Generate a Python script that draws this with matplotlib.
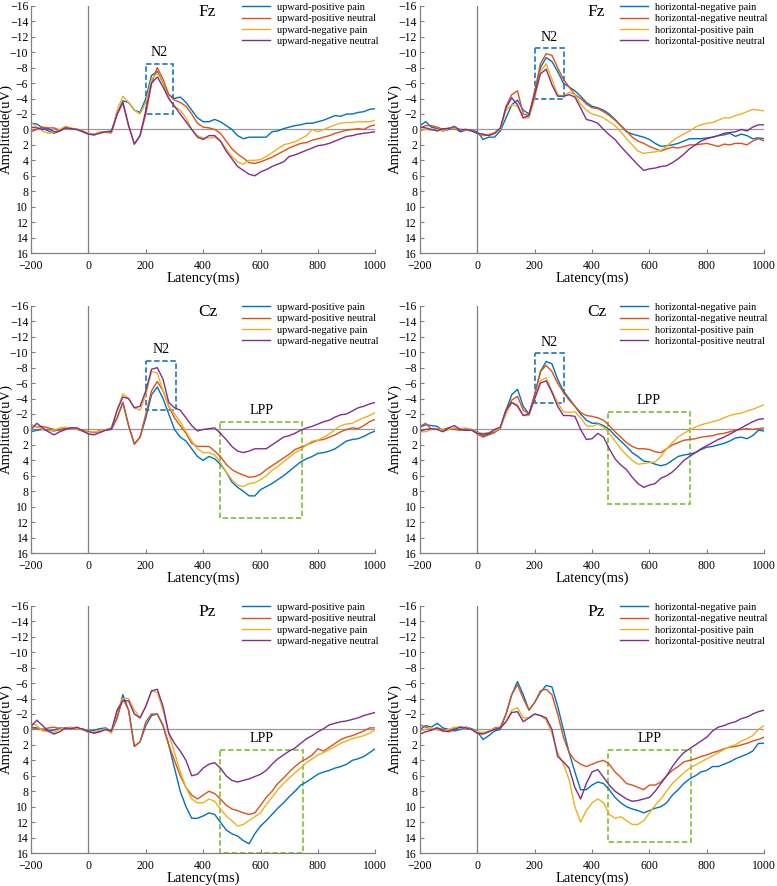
import matplotlib
matplotlib.use("Agg")
import matplotlib.pyplot as plt
from matplotlib.patches import Rectangle

plt.rcParams['font.family'] = ['Liberation Serif', 'DejaVu Serif']

# latency grid (ms), every 20 ms
LAT = list(range(-200, 1001, 20))

COLORS = ['#0072BD', '#D95319', '#EDB120', '#7E2F8E']
UP_LABELS = ['upward-positive pain', 'upward-positive neutral',
             'upward-negative pain', 'upward-negative neutral']
HOR_LABELS = ['horizontal-negative pain', 'horizontal-negative neutral',
              'horizontal-positive pain', 'horizontal-positive neutral']

# ---- Fz, upward (-200..80 baseline, then 100..1000)
FZ_UP_1 = [-0.8, -0.7, -0.2, 0.2, 0.5, 0.2, -0.3, -0.1, 0, 0.3, 0.6, 0.7, 0.4, 0.3, 0.2,
           -2, -3.7, -3.5, -2.5, -2.2, -4, -7, -7.5, -6, -4.5,
           -4, -4.2, -3.5, -2.5, -1.5, -1, -1, -1.3, -1, -0.5,
           0, 0.8, 1.2, 1, 1, 1, 1, 0.3, 0.2, -0.1,
           -0.3, -0.5, -0.6, -0.8, -0.8, -1, -1.2, -1.5, -1.8, -1.7,
           -2, -2, -2.2, -2.3, -2.6, -2.7]
FZ_UP_2 = [0.3, 0, -0.3, -0.2, -0.2, 0.1, -0.2, -0.1, 0, 0.2, 0.5, 0.6, 0.4, 0.3, 0.4,
           -2, -3.5, -0.5, 1.9, 0.8, -2, -6, -8, -6.5, -4.5,
           -3.8, -3.5, -3, -2, -0.8, -0.3, -0.2, 0, 0.5, 1.5,
           2.5, 3.2, 3.7, 4.3, 4.4, 4.2, 3.9, 3.6, 3.2, 2.8,
           2.4, 2.1, 1.8, 1.7, 1.4, 1.2, 1, 0.8, 0.5, 0.3,
           0.1, 0, -0.1, 0, -0.4, -0.6]
FZ_UP_3 = [-0.9, -0.3, 0.2, 0.5, 0.4, 0, -0.4, -0.2, 0, 0.3, 0.5, 0.6, 0.3, 0.4, 0.5,
           -2.5, -4.3, -3.5, -2.5, -2, -3.5, -6.5, -7.3, -6, -4,
           -3, -2.5, -1.5, 0, 0.8, 1.1, 1.1, 1, 1.5, 2.5,
           3.5, 4.2, 4.5, 4, 4, 3.9, 3.5, 3, 2.5, 2,
           1.8, 1.6, 1.2, 0.8, 0, 0.3, 0, -0.3, -0.6, -0.8,
           -0.9, -0.9, -1, -1, -1, -1.2]
FZ_UP_4 = [-0.3, -0.2, 0, -0.1, 0.3, 0.2, -0.2, -0.1, 0, 0.3, 0.6, 0.7, 0.5, 0.3, 0.3,
           -2, -3.5, -0.5, 1.9, 0.8, -2.5, -6, -6.8, -5.5, -4,
           -3, -2, -1, 0, 1, 1.3, 0.8, 0.8, 1.5, 2.8,
           3.8, 4.8, 5.3, 5.8, 6, 5.5, 5.2, 4.8, 4.5, 4.2,
           3.5, 3.3, 3, 2.7, 2.4, 2.1, 2, 1.8, 1.5, 1.2,
           0.9, 0.8, 0.6, 0.5, 0.4, 0.3]

# ---- Fz, horizontal
FZ_HOR_1 = [-0.5, -1, -0.3, -0.1, 0.2, 0, -0.2, 0.3, 0.1, 0.1, 0.3, 1.3, 1, 1, 0.2,
            -1.5, -3.2, -3.8, -2.5, -2, -4.5, -8, -9.3, -8.8, -7.5,
            -6, -5.5, -5, -4.3, -3.5, -3, -2.8, -2.5, -2, -1.3,
            -0.5, 0.3, 0.6, 0.8, 1, 1.3, 1.8, 2.2, 2.1, 2,
            1.8, 1.5, 1.2, 1.2, 1.2, 1.1, 1, 0.8, 0.7, 0.5,
            0.9, 0.6, 0.8, 1.2, 1.1, 1.2]
FZ_HOR_2 = [-0.2, -0.5, -0.5, -0.3, 0, -0.2, -0.1, 0, 0, 0.1, 0.5, 0.8, 0.7, 0.5, 0,
            -3, -4.5, -5, -2, -1.8, -5, -8.5, -9.8, -9.6, -8,
            -6.5, -5.5, -4.5, -4, -3.3, -2.8, -2.7, -2.3, -1.8, -1.2,
            -0.5, 0.2, 1, 1.5, 1.8, 2.2, 2.5, 2.8, 2.5, 2.3,
            2.4, 2.2, 2, 2, 1.9, 1.8, 2, 2.2, 1.9, 2,
            1.8, 1.8, 2, 1.5, 1.2, 1.5]
FZ_HOR_3 = [0.2, 0, 0.1, 0, 0.2, -0.1, -0.2, 0, 0.1, 0.2, 0.5, 0.7, 0.6, 0.4, 0,
            -2.5, -3.2, -3, -1.5, -1.5, -4, -7.5, -8.5, -6.5, -4.5,
            -4.3, -4.8, -4.5, -3.3, -2.5, -2, -1.8, -1.5, -1, -0.5,
            0.3, 1.2, 2, 2.8, 3.1, 3, 2.9, 2.7, 2.2, 1.5,
            1, 0.6, 0.2, -0.3, -0.6, -0.8, -0.9, -1.2, -1.5, -1.5,
            -1.8, -2, -2.3, -2.6, -2.5, -2.4]
FZ_HOR_4 = [-0.3, -0.2, 0, 0.2, -0.1, -0.1, -0.4, 0.1, 0, 0.2, 0.5, 0.6, 0.8, 0.5, -0.2,
            -2.8, -4.1, -3.2, -1.5, -1.8, -4.5, -7.2, -7.8, -5.8, -4.3,
            -4.3, -4.5, -4.2, -2.8, -1.3, -1.1, -0.8, 0, 0.7, 1.3,
            2.2, 3, 3.8, 4.6, 5.3, 5.1, 5, 4.8, 4.7, 4.3,
            3.8, 3.2, 2.5, 2, 1.5, 1.2, 1, 0.8, 0.5, 0.4,
            0.3, 0, 0.2, -0.3, -0.6, -0.6]

# ---- Cz, upward
CZ_UP_1 = [0.3, 0.1, 0, 0.1, 0.2, 0, -0.1, -0.2, 0, 0.2, 0.4, 0.4, 0.2, 0.1, 0,
           -1.5, -3.5, -0.5, 1.9, 1, -1.5, -4.5, -5.5, -4, -2,
           0, 1, 1.5, 2.5, 3.5, 4, 3.5, 3.8, 4.5, 5.5,
           6.8, 7.5, 8, 8.6, 8.6, 7.8, 7.4, 7, 6.5, 6,
           5.4, 4.8, 4.2, 3.8, 3.5, 3.1, 3, 2.8, 2.5, 2,
           1.5, 1.3, 1.2, 0.9, 0.5, 0.2]
CZ_UP_2 = [-0.6, -0.3, -0.4, -0.2, 0, 0.1, -0.2, -0.2, -0.1, 0.1, 0.3, 0.4, 0.2, 0.1, -0.1,
           -1.5, -3.5, -0.5, 1.9, 1, -2, -5, -6.2, -5, -3,
           -1.5, -0.5, 0.5, 1.8, 2.2, 2.2, 2.2, 2.8, 3.5, 4.5,
           5.2, 5.6, 5.9, 6.2, 6.1, 5.8, 5.2, 4.7, 4.2, 3.7,
           3.2, 2.6, 2.3, 2, 1.7, 1.4, 1.3, 1, 0.7, 0.3,
           0, -0.2, -0.1, -0.5, -1, -1.3]
CZ_UP_3 = [-0.6, -0.4, 0, 0.2, 0.1, -0.2, -0.3, -0.1, 0, 0.2, 0.4, 0.3, 0.2, 0, -0.2,
           -2.5, -4.6, -4, -2.8, -2.5, -4.5, -7.5, -7.3, -5, -3,
           -2, -1, 0.3, 1.5, 2.5, 3, 3, 3.3, 4.3, 5.5,
           6.5, 7.2, 7.4, 7, 6.9, 6.5, 6, 5.3, 4.8, 4.2,
           3.6, 3, 2.6, 2, 1.5, 1.4, 1, 0.6, 0, -0.5,
           -0.7, -0.8, -1.2, -1.5, -1.8, -2.2]
CZ_UP_4 = [0, -0.8, -0.2, 0.3, 0.7, 0.3, 0, -0.2, -0.2, 0.2, 0.6, 0.7, 0.4, 0.1, -0.1,
           -2.5, -4.2, -4, -2.8, -3, -5, -7.8, -8, -6.5, -3.5,
           -2.8, -2.5, -1.5, -0.5, 0.2, 0, -0.1, -0.2, 0.5, 1.3,
           2.2, 2.8, 3, 2.8, 2.5, 2.5, 2.5, 2, 1.5, 1,
           0.8, 0.5, 0.1, -0.2, -0.4, -0.7, -1, -1.2, -1.6, -1.9,
           -2, -2.4, -2.8, -3, -3.3, -3.5]

# ---- Cz, horizontal
CZ_HOR_1 = [-0.3, -0.6, -0.5, -0.4, 0.2, 0, -0.1, 0, 0.1, 0.1, 0.3, 0.8, 0.6, 0.3, -0.2,
            -2.5, -4.5, -5.2, -3, -2, -4.5, -7.5, -8.8, -8.5, -6.5,
            -5, -4, -3, -2, -1.2, -0.8, -0.8, -0.5, 0, 0.8,
            1.5, 2.2, 3, 3.5, 4.1, 4.2, 4.5, 4.7, 4.5, 4,
            3.5, 3.3, 3.2, 3, 2.6, 2.3, 2.2, 2, 1.8, 1.5,
            1.1, 1, 1.2, 0.8, 0.1, 0.2]
CZ_HOR_2 = [-0.4, -0.8, 0, -0.1, 0, -0.2, 0, 0.1, -0.1, 0, 0.6, 1, 0.7, 0.4, -0.1,
            -2.5, -3.8, -4.3, -2.5, -2, -4.5, -7.5, -8.3, -7.5, -6,
            -4.8, -3.8, -3, -2.2, -1.8, -1.7, -1.5, -1.2, -0.5, 0.3,
            1, 1.7, 2.2, 2.5, 2.5, 2.6, 2.9, 3, 2.5, 2,
            1.7, 1.4, 1.3, 1.2, 1, 0.9, 0.8, 0.6, 0.5, 0.3,
            0.1, 0, -0.1, 0, -0.1, -0.2]
CZ_HOR_3 = [0.3, 0.3, 0, -0.1, 0.1, 0, -0.2, -0.1, -0.2, 0, 0.4, 0.5, 0.4, 0.2, -0.2,
            -2, -3.5, -3.2, -1.8, -1.8, -4, -6.3, -6.7, -5, -3.5,
            -2.3, -2.2, -2.3, -1.5, -0.5, -0.4, -0.7, -0.3, 0.5, 1.5,
            2.5, 3.3, 4, 4.5, 4.4, 4.3, 4.2, 3.5, 2.5, 1.7,
            1, 0.5, 0.1, -0.3, -0.6, -0.8, -1, -1.2, -1.5, -1.8,
            -2, -2.1, -2.4, -2.6, -2.9, -3.2]
CZ_HOR_4 = [0.2, 0, -0.1, 0, 0.3, -0.2, -0.5, 0, 0.1, 0.1, 0.5, 0.6, 0.5, 0, -0.3,
            -2.5, -3.5, -3, -1.8, -2, -4, -6, -6.3, -4.8, -3,
            -1.8, -1.8, -1.7, 0, 1.3, 1.2, 0.5, 1, 2.5, 3.8,
            4.6, 5.2, 6.2, 7, 7.5, 7.2, 7, 6.3, 6, 5.5,
            4.8, 4, 3.5, 3, 2.5, 2.1, 1.7, 1.3, 1, 0.6,
            0.2, -0.2, -0.6, -1, -1.3, -1.4]

# ---- Pz, upward
PZ_UP_1 = [-0.3, -0.2, 0, 0.2, 0.1, -0.2, -0.1, -0.2, -0.1, 0, 0.2, 0.1, -0.1, -0.2, 0.3,
           -1.5, -4.5, -2.5, 2.2, 1.6, -0.5, -1.8, -2, -0.5, 2,
           5, 8, 10, 11.5, 11.5, 11.2, 10.8, 11, 12, 13,
           13.5, 13.8, 14.4, 14.8, 13.5, 12.5, 11.8, 11, 10.2, 9.5,
           8.7, 8, 7.2, 6.8, 6.3, 5.8, 5.5, 5.3, 5, 4.8,
           4.5, 4, 3.8, 3.5, 3, 2.5]
PZ_UP_2 = [-0.2, -0.1, 0, -0.2, -0.3, -0.1, -0.2, -0.2, -0.1, -0.1, 0.3, 0.4, 0.2, 0, 0.3,
           -1.5, -4, -2.5, 2.2, 1.6, -1, -2, -2, -0.5, 2,
           4, 6, 7.5, 8.5, 9, 8.5, 8, 8.3, 9, 9.8,
           10.3, 10.5, 10.8, 11, 10.8, 9.8, 8.8, 8, 7, 6.3,
           5.5, 4.8, 4.2, 3.8, 3.3, 2.5, 2.8, 2.3, 1.8, 1.3,
           1, 0.8, 0.5, 0.2, -0.2, -0.2]
PZ_UP_3 = [-0.8, -0.5, 0.2, 0.3, 0.4, 0, -0.2, -0.3, -0.1, 0, 0.4, 0.3, 0.1, -0.1, 0.5,
           -2.5, -4, -4, -2.5, -1.5, -3, -5, -4.8, -2.5, 0.5,
           3, 5.5, 7.5, 9, 9.5, 9.5, 9, 9.3, 10.3, 11.2,
           11.8, 12.5, 12.3, 11.8, 11.3, 10.8, 9.7, 8.8, 7.8, 7,
           6.3, 5.6, 5, 4.3, 3.8, 3.3, 3, 2.6, 2.2, 1.8,
           1.5, 1.2, 1, 0.8, 0.5, 0]
PZ_UP_4 = [-0.4, -1.2, -0.5, 0.2, 0.6, 0.3, -0.2, -0.1, -0.3, 0, 0.3, 0.5, 0.3, 0, 0.2,
           -2.5, -3.7, -3.7, -2, -1.5, -3, -5, -5.2, -3, 0.5,
           1.8, 2.8, 4, 6, 5.8, 5, 4.5, 4.3, 5, 6,
           6.6, 6.8, 6.6, 6.4, 6.1, 5.8, 5.3, 4.5, 3.8, 3.3,
           2.8, 2.4, 1.8, 1.2, 0.8, 0.3, -0.1, -0.6, -0.8, -1,
           -1.1, -1.3, -1.5, -1.8, -2, -2.2]

# ---- Pz, horizontal
PZ_HOR_1 = [0, -0.5, -0.3, -0.8, -0.2, 0, 0.2, 0, -0.3, -0.1, 0.3, 1.3, 0.8, 0.2, 0,
            -2, -4.5, -6.2, -4.5, -2.5, -3.5, -4.8, -5.7, -5.5, -3,
            0, 3, 5.5, 7.8, 7.8, 7.2, 6.8, 7, 7.8, 8.8,
            9.5, 10, 10.3, 10.5, 10.8, 10.5, 10.2, 10, 9.5, 8.5,
            7.8, 7, 6.4, 6, 5.5, 5.3, 4.8, 4.8, 4.5, 4.2,
            3.8, 3.5, 3.2, 2.8, 1.8, 1.8]
PZ_HOR_2 = [-0.6, -0.3, 0, -0.2, 0, 0.2, -0.2, -0.3, -0.2, 0, 0.4, 0.5, 0.3, -0.2, -0.3,
            -2, -4.5, -5.8, -4, -2.5, -3.5, -5, -5.2, -4.5, -2,
            1, 3, 4, 4.5, 4.8, 4.5, 4.2, 4, 4.5, 5.5,
            6.2, 7, 7.2, 7.5, 7.8, 7.2, 7.2, 6.8, 6, 5.3,
            4.8, 4.2, 4, 3.8, 3.5, 3.3, 3, 2.8, 2.5, 2.3,
            2.2, 2, 1.8, 1.5, 1.3, 1]
PZ_HOR_3 = [0.2, 0, -0.2, 0.1, 0.2, 0, -0.3, -0.2, -0.3, 0, 0.3, 0.4, 0.2, -0.1, -0.2,
            -1, -2.5, -2.8, -1.5, -1.5, -2, -1.8, -1.2, 0.5, 3,
            4.5, 6.5, 10, 12, 10.5, 9.5, 9, 9.5, 11, 11.5,
            11.3, 11.8, 12.3, 12.3, 11.8, 10.8, 9.8, 9, 8, 7,
            6.3, 5.6, 5, 4.6, 4.2, 3.8, 3.4, 3, 2.6, 2.2,
            2, 1.5, 1.2, 0.8, 0, -0.5]
PZ_HOR_4 = [0.6, 0.3, 0.1, -0.2, 0.2, 0.3, 0, -0.3, -0.2, 0, 0.5, 0.6, 0.3, 0, -0.2,
            -1, -2.2, -2.3, -1, -1.5, -2, -1.8, -1.5, 0, 3.5,
            4.2, 5, 7.5, 9, 7, 5.5, 5.2, 6.2, 7.2, 8,
            8.5, 9, 9.3, 9.2, 9, 8.8, 8, 7, 6, 4.8,
            3.8, 3, 2.5, 2, 1.5, 1, 0.2, -0.3, -0.5, -0.8,
            -1, -1.4, -1.6, -2, -2.3, -2.5]

# dashed ROI boxes: (x0, x1, y0, y1)
N2_BOXES = {'FZ_UP': (200, 295, -8.5, -2.0), 'FZ_HOR': (200, 303, -10.5, -3.9),
            'CZ_UP': (200, 304, -8.9, -2.5), 'CZ_HOR': (200, 302, -9.9, -3.4)}
LPP_BOXES = {'CZ_UP': (458, 746, -0.95, 11.5), 'CZ_HOR': (454, 742, -2.3, 9.6),
             'PZ_UP': (458, 747, 2.7, 16.0), 'PZ_HOR': (455, 745, 2.7, 14.6)}

PANELS = [
    ('FZ_UP', 'Fz', [FZ_UP_1, FZ_UP_2, FZ_UP_3, FZ_UP_4], UP_LABELS),
    ('FZ_HOR', 'Fz', [FZ_HOR_1, FZ_HOR_2, FZ_HOR_3, FZ_HOR_4], HOR_LABELS),
    ('CZ_UP', 'Cz', [CZ_UP_1, CZ_UP_2, CZ_UP_3, CZ_UP_4], UP_LABELS),
    ('CZ_HOR', 'Cz', [CZ_HOR_1, CZ_HOR_2, CZ_HOR_3, CZ_HOR_4], HOR_LABELS),
    ('PZ_UP', 'Pz', [PZ_UP_1, PZ_UP_2, PZ_UP_3, PZ_UP_4], UP_LABELS),
    ('PZ_HOR', 'Pz', [PZ_HOR_1, PZ_HOR_2, PZ_HOR_3, PZ_HOR_4], HOR_LABELS),
]

for key, _, series, _ in PANELS:
    for s in series:
        assert len(s) == len(LAT), (key, len(s))

fig = plt.figure(figsize=(7.77, 8.86), dpi=100)
lefts = [0.040, 0.5405]
bottoms = [0.7144, 0.3758, 0.0372]
W, H = 0.443, 0.279
GRAY = '#808080'


def box(ax, b, color, label, label_y):
    x0, x1, y0, y1 = b
    ax.add_patch(Rectangle((x0, y0), x1 - x0, y1 - y0, fill=False,
                           edgecolor=color, lw=1.3, ls=(0, (3, 1.5))))
    ax.text((x0 + x1) / 2, label_y, label, ha='center', va='center', fontsize=10)


for i, (key, site, series, labels) in enumerate(PANELS):
    ax = fig.add_axes([lefts[i % 2], bottoms[i // 2], W, H])
    for s, c, lab in zip(series, COLORS, labels):
        ax.plot(LAT, s, color=c, lw=1.0, label=lab)
    ax.axhline(0, color='#999999', lw=0.9, zorder=0)
    ax.axvline(0, color=GRAY, lw=0.9, zorder=0)
    ax.set_xlim(-200, 1000)
    ax.set_ylim(16, -16)
    ax.set_xticks(range(-200, 1001, 200))
    ax.set_yticks(range(-16, 17, 2))
    for sp in ('top', 'right'):
        ax.spines[sp].set_visible(False)
    for sp in ('left', 'bottom'):
        ax.spines[sp].set_color(GRAY)
        ax.spines[sp].set_linewidth(0.9)
    ax.tick_params(direction='in', length=3, color=GRAY, labelsize=8.5)
    ax.tick_params(axis='x', pad=5)
    ax.tick_params(axis='y', pad=2)
    ax.set_xlabel('Latency(ms)', fontsize=10.5, labelpad=0)
    ax.set_ylabel('Amplitude(uV)', fontsize=10.5)
    ax.yaxis.set_label_coords(-0.052, 0.5)
    ax.text(415, -15.2, site, ha='center', va='center', fontsize=12.5)
    ax.legend(loc='upper right', bbox_to_anchor=(1.02, 1.03), frameon=False,
              fontsize=7.5, handlelength=2.7, handletextpad=0.6, labelspacing=0.2,
              borderaxespad=0)
    if key in N2_BOXES:
        b = N2_BOXES[key]
        box(ax, b, '#2a80c4', 'N2', b[2] - 1.4)
    if key in LPP_BOXES:
        b = LPP_BOXES[key]
        box(ax, b, '#86c440', 'LPP', b[2] - 1.5)

fig.savefig('out.png', dpi=100)
